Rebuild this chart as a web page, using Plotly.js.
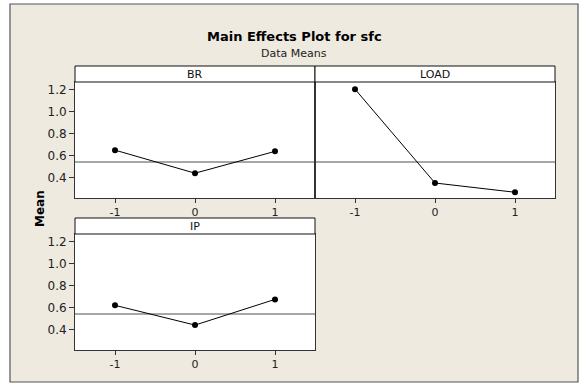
<!DOCTYPE html>
<html><head><meta charset="utf-8">
<script src="https://cdn.plot.ly/plotly-3.0.1.min.js"></script>
<style>html,body{margin:0;padding:0;background:#fff}#c{width:585px;height:383px}</style>
</head><body><div id="c"></div>
<script>
const levels = [-1, 0, 1];
const levelLabels = ['-1', '0', '1'];
const factors = ['BR', 'LOAD', 'IP'];
const brMeans = [0.652, 0.443, 0.641];
const loadMeans = [1.205, 0.354, 0.270];
const ipMeans = [0.623, 0.444, 0.677];
const grandMean = 0.545;
const yTicks = [0.4, 0.6, 0.8, 1.0, 1.2];
const yTickLabels = ['0.4', '0.6', '0.8', '1.0', '1.2'];

const W = 585, H = 383;
const px = v => v / W, py = v => 1 - v / H;
const FONT = 'DejaVu Sans, Verdana, sans-serif';
const beige = '#EEEAE0';
const dark = '#333333';

const series = [brMeans, loadMeans, ipMeans];
const axn = ['', '2', '3'];
const traces = series.map((s, i) => ({
  type: 'scatter', mode: 'lines+markers',
  x: levels, y: s, xaxis: 'x' + axn[i], yaxis: 'y' + axn[i],
  line: {color: '#000', width: 1},
  marker: {color: '#000', size: 6},
  hoverinfo: 'skip', showlegend: false
}));

const xDom1 = [px(75), px(315)], xDom2 = [px(315), px(555)];
const yTop = [py(198), py(82)], yBot = [py(350), py(234)];
const yRange = [0.218, 1.27];
const xRange = [-1.5, 1.5];

function xa(dom, anchor) {
  return {domain: dom, anchor: anchor, range: xRange, tickvals: levels, ticktext: levelLabels,
    showgrid: false, zeroline: false, showline: true, mirror: true, linecolor: dark, linewidth: 1,
    ticks: 'outside', ticklen: 4, tickcolor: dark, tickfont: {family: FONT, size: 11, color: '#222'}, fixedrange: true};
}
function ya(dom, anchor, show) {
  return {domain: dom, anchor: anchor, range: yRange, tickvals: yTicks, ticktext: yTickLabels,
    showticklabels: show, ticks: show ? 'outside' : '', ticklen: 5, tickcolor: dark,
    showgrid: false, zeroline: false, showline: true, mirror: true, linecolor: dark, linewidth: 1,
    tickfont: {family: FONT, size: 12, color: '#222'}, fixedrange: true};
}

const shapes = [
  {type: 'rect', xref: 'paper', yref: 'paper', x0: px(10), x1: px(578), y0: py(382), y1: py(4),
   fillcolor: beige, line: {color: '#555', width: 1.2}, layer: 'below'}
];
const annotations = [
  {xref: 'paper', yref: 'paper', x: px(294), y: py(36), text: '<b>Main Effects Plot for sfc</b>', showarrow: false,
   font: {family: FONT, size: 13, color: '#000'}, xanchor: 'center', yanchor: 'middle'},
  {xref: 'paper', yref: 'paper', x: px(294), y: py(53), text: 'Data Means', showarrow: false,
   font: {family: FONT, size: 11, color: '#222'}, xanchor: 'center', yanchor: 'middle'},
  {xref: 'paper', yref: 'paper', x: px(40), y: py(209), text: '<b>Mean</b>', textangle: -90, showarrow: false,
   font: {family: FONT, size: 12, color: '#000'}, xanchor: 'center', yanchor: 'middle'}
];
const stripH = 16 / 116;
factors.forEach((f, i) => {
  const xr = 'x' + axn[i] + ' domain', yr = 'y' + axn[i] + ' domain';
  shapes.push({type: 'rect', xref: xr, yref: yr, x0: 0, x1: 1, y0: 0, y1: 1, fillcolor: '#fff', line: {width: 0}, layer: 'below'});
  shapes.push({type: 'line', xref: xr, yref: 'y' + axn[i], x0: 0, x1: 1, y0: grandMean, y1: grandMean,
    line: {color: '#8a8a8a', width: 1.5}, layer: 'below'});
  shapes.push({type: 'rect', xref: xr, yref: yr, x0: 0, x1: 1, y0: 1, y1: 1 + stripH, fillcolor: '#fff',
    line: {color: '#111', width: 1}});
  annotations.push({xref: xr, yref: yr, x: 0.5, y: 1 + stripH / 2, text: f, showarrow: false,
    font: {family: FONT, size: 11, color: '#111'}, xanchor: 'center', yanchor: 'middle'});
});

const layout = {
  width: W, height: H, margin: {l: 0, r: 0, t: 0, b: 0},
  paper_bgcolor: '#fff', plot_bgcolor: '#fff', showlegend: false,
  xaxis: xa(xDom1, 'y'), yaxis: ya(yTop, 'x', true),
  xaxis2: xa(xDom2, 'y2'), yaxis2: ya(yTop, 'x2', false),
  xaxis3: xa(xDom1, 'y3'), yaxis3: ya(yBot, 'x3', true),
  shapes: shapes, annotations: annotations
};
Plotly.newPlot('c', traces, layout, {displayModeBar: false, staticPlot: true});
</script></body></html>
